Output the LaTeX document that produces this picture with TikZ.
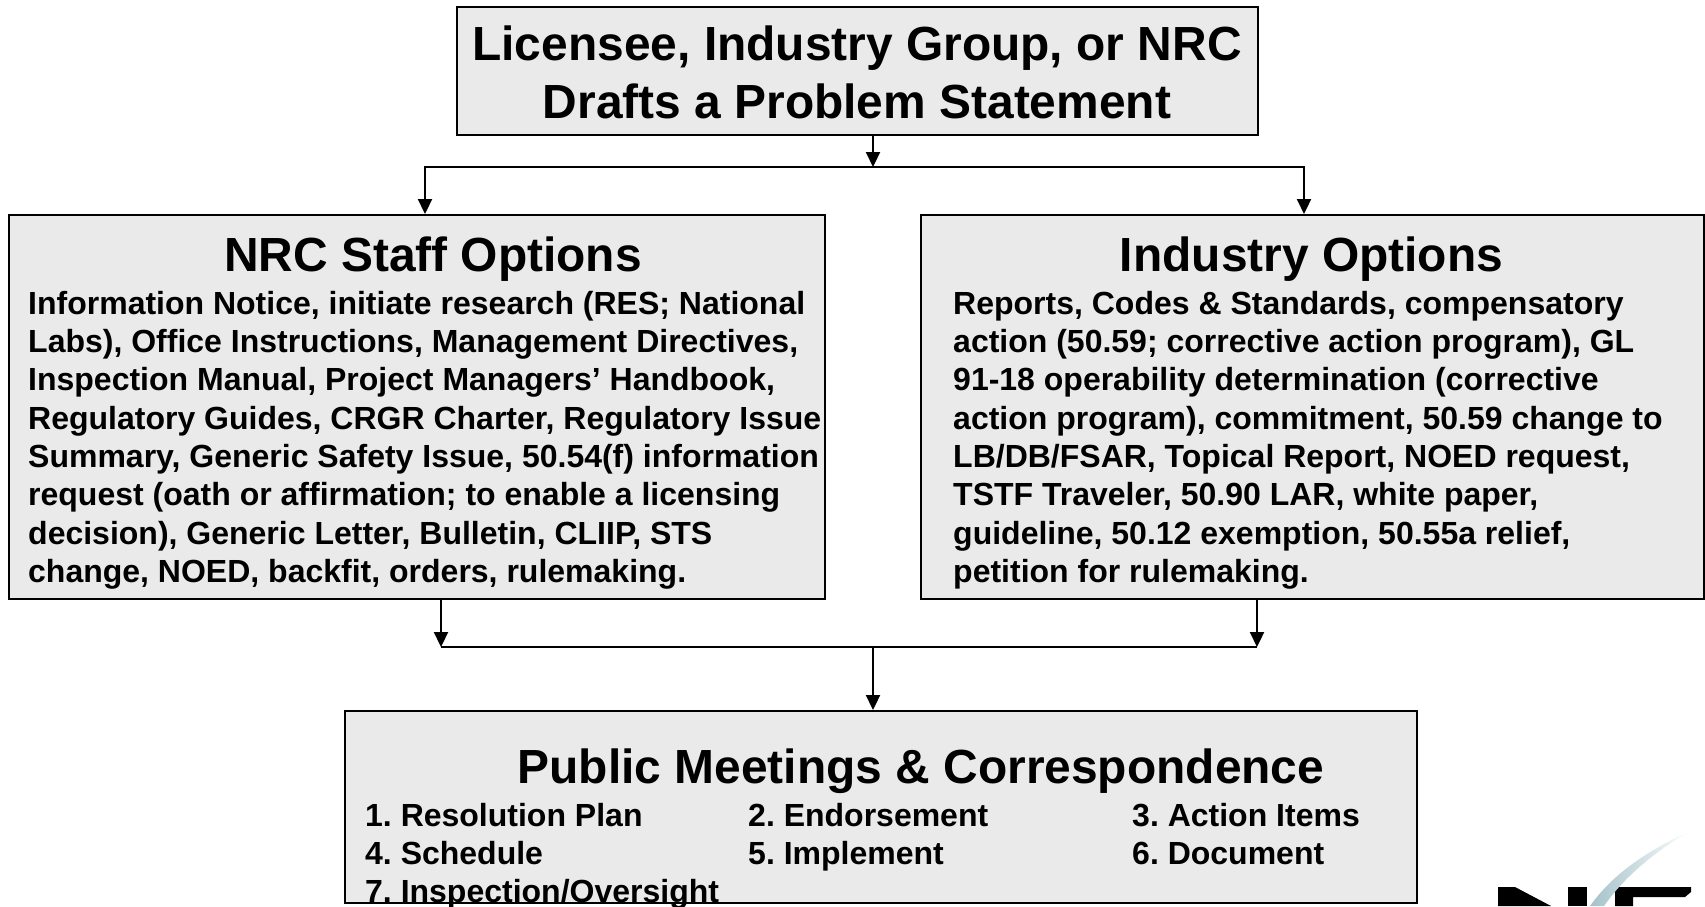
\documentclass[tikz,border=0pt]{standalone}
\usepackage{fontspec}
\setmainfont{Liberation Sans}
\definecolor{boxfill}{HTML}{EAEAEA}
\definecolor{swooshA}{HTML}{A4C2CA}
\definecolor{swooshB}{HTML}{FAFCFC}
\usetikzlibrary{arrows.meta}
\tikzset{
  x=1pt,y=-1pt,
  panel/.style={draw=black,line width=2.2pt,fill=boxfill,rectangle,inner sep=0pt,anchor=north west},
  conn/.style={draw=black,line width=2.2pt},
  arr/.style={conn,-{Triangle[length=15pt,width=14pt]}},
  headtext/.style={font=\fontsize{47.9}{57.6}\selectfont\bfseries,align=center,inner sep=0pt,anchor=base},
  bodytext/.style={font=\fontsize{32}{38.3}\selectfont\bfseries\frenchspacing,align=left,inner sep=0pt,anchor=north west},
  itemtext/.style={font=\fontsize{32}{38.3}\selectfont\bfseries\frenchspacing,inner sep=0pt,anchor=base west},
}
\begin{document}
\begin{tikzpicture}
\useasboundingbox (0,0) rectangle (1705,906);
\node[panel,minimum width=801pt,minimum height=128pt] (top) at (456,6) {};
\node[panel,minimum width=816pt,minimum height=384pt] (left) at (8,214) {};
\node[panel,minimum width=783pt,minimum height=384pt] (right) at (920,214) {};
\node[panel,minimum width=1072pt,minimum height=192pt] (bottom) at (344,710) {};

\node[headtext] (toptitle) at (857,60) {Licensee, Industry Group, or NRC};
\node[headtext] (toptitleb) at (857,118) {Drafts a Problem Statement};
\node[headtext] (lefttitle) at (433,271) {NRC Staff Options};
\node[headtext] (righttitle) at (1311.5,271) {Industry Options};
\node[headtext] (bottomtitle) at (921,783) {Public Meetings \& Correspondence};

\node[bodytext] (leftbody) at (28,291) {Information Notice, initiate research (RES; National\\
Labs), Office Instructions, Management Directives,\\
Inspection Manual, Project Managers’ Handbook,\\
Regulatory Guides, CRGR Charter, Regulatory Issue\\
Summary, Generic Safety Issue, 50.54(f) information\\
request (oath or affirmation; to enable a licensing\\
decision), Generic Letter, Bulletin, CLIIP, STS\\
change, NOED, backfit, orders, rulemaking.};
\node[bodytext] (rightbody) at (953,291) {Reports, Codes \& Standards, compensatory\\
action (50.59; corrective action program), GL\\
91-18 operability determination (corrective\\
action program), commitment, 50.59 change to\\
LB/DB/FSAR, Topical Report, NOED request,\\
TSTF Traveler, 50.90 LAR, white paper,\\
guideline, 50.12 exemption, 50.55a relief,\\
petition for rulemaking.};

\node[itemtext] (i1) at (365,826) {1. Resolution Plan};
\node[itemtext] (i2) at (748,826) {2. Endorsement};
\node[itemtext] (i3) at (1132,826) {3. Action Items};
\node[itemtext] (i4) at (365,864) {4. Schedule};
\node[itemtext] (i5) at (748,864) {5. Implement};
\node[itemtext] (i6) at (1132,864) {6. Document};
\node[itemtext] (i7) at (365,902) {7. Inspection/Oversight};

% connectors
\coordinate (topmid) at (873,134);
\coordinate (split) at (873,167);
\coordinate (splitl) at (425,167);
\coordinate (splitr) at (1304,167);
\coordinate (leftin) at (425,214);
\coordinate (rightin) at (1304,214);
\coordinate (leftout) at (441,598);
\coordinate (rightout) at (1257,598);
\coordinate (joinl) at (441,647);
\coordinate (joinr) at (1257,647);
\coordinate (join) at (873,647);
\coordinate (bottomin) at (873,710);
\draw[conn] (leftin) ++(0,-14) -- (splitl) -- (splitr) -- ++(0,14);
\draw[arr] (topmid) -- (split);
\draw[arr] (splitl) -- (leftin);
\draw[arr] (splitr) -- (rightin);
\draw[conn] (joinl) -- (joinr);
\draw[arr] (leftout) -- (joinl);
\draw[arr] (rightout) -- (joinr);
\draw[arr] (join) -- (bottomin);

% logo fragment
\fill[black] (1498,887) -- (1515,887) -- (1551,906) -- (1498,906) -- cycle;
\fill[black] (1568,887) -- (1587,887) -- (1587,906) -- (1568,906) -- cycle;
\fill[black] (1615,887) -- (1691,887) -- (1691,892) -- (1685,897) -- (1633,897) -- (1633,906) -- (1615,906) -- cycle;
\shade[left color=swooshA,right color=swooshB]
  (1590,906) .. controls (1612,875) and (1645,852) .. (1688,832)
  .. controls (1650,855) and (1622,880) .. (1604,906) -- cycle;
\end{tikzpicture}
\end{document}
